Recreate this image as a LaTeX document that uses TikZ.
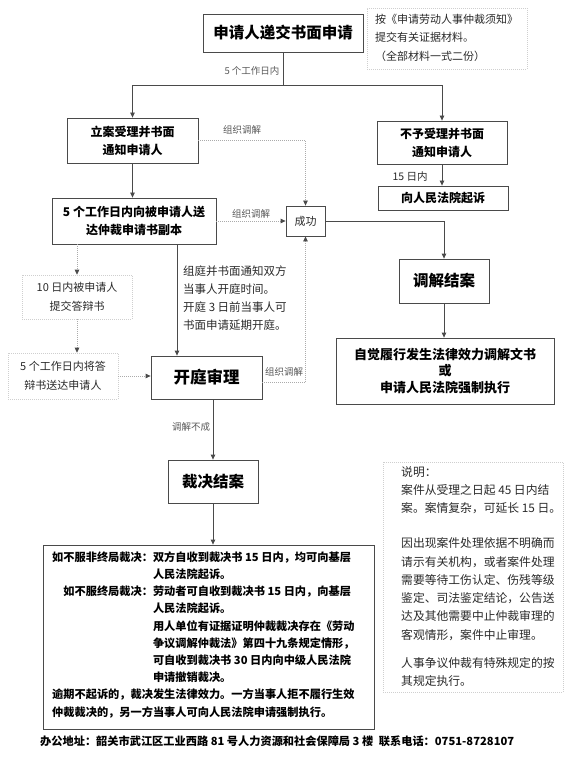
\documentclass[tikz,border=0pt]{standalone}
\usepackage{fontspec}
\setmainfont{Noto Sans CJK SC}
\usetikzlibrary{arrows.meta}
\definecolor{boxc}{HTML}{4A4A4A}
\definecolor{linec}{HTML}{4A4A4A}
\definecolor{dotc}{HTML}{ABABAB}
\definecolor{dboxc}{HTML}{CFCFCF}
\definecolor{notec}{HTML}{2A2A2A}
\definecolor{labc}{HTML}{5A5A5A}
\tikzset{
 box/.style={draw=boxc, line width=0.8pt, fill=white, inner sep=0pt, align=center, text=black, font=\bfseries\fontsize{12pt}{18pt}\selectfont},
 bigbox/.style={box, font=\bfseries\fontsize{15.5pt}{18pt}\selectfont},
 dbox/.style={draw=dboxc, line width=0.6pt, dash pattern=on 1pt off 1pt, inner sep=0pt, align=center, text=notec, font=\fontsize{11pt}{19pt}\selectfont},
 conn/.style={draw=linec, line width=0.8pt},
 arr/.style={draw=linec, line width=0.8pt, -{Triangle[length=5pt,width=4.5pt]}},
 darr/.style={draw=dotc, line width=0.8pt, dash pattern=on 1pt off 1pt, -{Triangle[length=5pt,width=4.5pt,color=linec]}},
 lab/.style={inner sep=0pt, text=labc, font=\fontsize{9.5pt}{11pt}\selectfont},
 notetext/.style={inner sep=0pt, align=left, text=notec, anchor=north west},
}
\begin{document}
\begin{tikzpicture}[x=1pt,y=-1pt]
\useasboundingbox (0,0) rectangle (567,759);
\fill[white] (0,0) rectangle (567,759);

% top
\node[bigbox, minimum width=160pt, minimum height=38pt] (b1) at (283,33) {申请人递交书面申请};
\node[dbox, minimum width=160pt, minimum height=61pt] (nb) at (447,38.5) {};
\node[notetext, anchor=west, font=\fontsize{11pt}{18.5pt}\selectfont] (nt) at (375,37.5) {按《申请劳动人事仲裁须知》\\提交有关证据材料。\\（全部材料一式二份）};

% boxes
\node[box, minimum width=131pt, minimum height=45pt] (acc) at (132.5,140.5) {立案受理并书面\\通知申请人};
\node[box, minimum width=164pt, minimum height=46pt] (send) at (134,221) {5 个工作日内向被申请人送\\达仲裁申请书副本};
\node[box, minimum width=130pt, minimum height=43pt] (rej) at (442,142.5) {不予受理并书面\\通知申请人};
\node[box, minimum width=130pt, minimum height=24pt] (sue) at (443,198) {向人民法院起诉};
\node[box, minimum width=39pt, minimum height=30pt, font=\fontsize{11pt}{13pt}\selectfont, text=notec] (succ) at (305.5,221) {成功};
\node[bigbox, minimum width=90pt, minimum height=44pt] (med) at (444,281) {调解结案};
\node[box, minimum width=218pt, minimum height=66pt, font=\bfseries\fontsize{13pt}{16.5pt}\selectfont] (exec) at (445,371) {自觉履行发生法律效力调解文书\\或\\申请人民法院强制执行};
\node[dbox, minimum width=110pt, minimum height=44pt] (reply) at (77,297) {10 日内被申请人\\提交答辩书};
\node[dbox, minimum width=110pt, minimum height=46pt] (fwd) at (63,376) {5 个工作日内将答\\辩书送达申请人};
\node[bigbox, minimum width=111pt, minimum height=43pt, font=\bfseries\fontsize{16.5pt}{18pt}\selectfont] (hear) at (206.5,377.5) {开庭审理};
\node[notetext, font=\fontsize{11.5pt}{18pt}\selectfont] (court) at (183,266) {组庭并书面通知双方\\当事人开庭时间。\\开庭 3 日前当事人可\\书面申请延期开庭。};
\node[bigbox, minimum width=90pt, minimum height=43pt] (award) at (213,481.5) {裁决结案};

% big box
\node[box, minimum width=331pt, minimum height=184pt] (big) at (208.5,637) {};
\node[inner sep=0pt, anchor=north west, font=\bfseries\fontsize{11.2pt}{17.2pt}\selectfont] (bigt) at (52,549) {%
\begin{tabular}{@{}r@{}l@{}}
如不服非终局裁决：& 双方自收到裁决书 15 日内，均可向基层\\
& 人民法院起诉。\\
如不服终局裁决：& 劳动者可自收到裁决书 15 日内，向基层\\
& 人民法院起诉。\\
& 用人单位有证据证明仲裁裁决存在《劳动\\
& 争议调解仲裁法》第四十九条规定情形，\\
& 可自收到裁决书 30 日内向中级人民法院\\
& 申请撤销裁决。\\
\multicolumn{2}{@{}l@{}}{逾期不起诉的，裁决发生法律效力。一方当事人拒不履行生效}\\
\multicolumn{2}{@{}l@{}}{仲裁裁决的，另一方当事人可向人民法院申请强制执行。}
\end{tabular}};

% explanation
\node[dbox, minimum width=180pt, minimum height=230pt] (expl) at (473,577) {};
\node[notetext, font=\fontsize{11.8pt}{18.3pt}\selectfont] (explt) at (401,466) {说明：\\案件从受理之日起 45 日内结\\案。案情复杂，可延长 15 日。\\[16.7pt]因出现案件处理依据不明确而\\请示有关机构，或者案件处理\\需要等待工伤认定、伤残等级\\鉴定、司法鉴定结论，公告送\\达及其他需要中止仲裁审理的\\客观情形，案件中止审理。\\[9.7pt]人事争议仲裁有特殊规定的按\\其规定执行。};

% footer
\node[inner sep=0pt, anchor=west, font=\bfseries\fontsize{11.2pt}{13pt}\selectfont] (foot) at (40,741) {办公地址：韶关市武江区工业西路 81 号人力资源和社会保障局 3 楼\enspace 联系电话：0751-8728107};

% connectors
\coordinate (split) at (b1.south |- 0,85);
\draw[conn] (b1.south) -- (split);
\draw[arr] (split) -| (acc.north);
\draw[arr] (split) -| (rej.north);
\node[lab] (l5) at (252,71) {5 个工作日内};
\draw[arr] (acc.south) -- (acc.south |- send.north);
\draw[arr] (rej.south) -- (rej.south |- sue.north);
\node[lab, font=\fontsize{10.5pt}{12pt}\selectfont, text=notec] (l15) at (410,177) {15 日内};
\draw[darr] (acc.east) -| (succ.north);
\node[lab] (lm1) at (242,130) {组织调解};
\draw[darr] (send.east) -- (succ.west);
\node[lab] (lm2) at (251,214) {组织调解};
\draw[arr] (succ.east) -| (med.north);
\draw[arr] (med.south) -- (med.south |- exec.north);
\draw[darr] (send.south -| reply.north) -- (reply.north);
\draw[darr] (reply.south) -- (reply.south |- fwd.north);
\draw[darr] (fwd.east) -- (fwd.east -| hear.west);
\draw[arr] ([xshift=43pt]send.south) -- ([xshift=43pt]send.south |- hear.north);
\draw[darr] ([yshift=-5pt]hear.east) -| (succ.south);
\node[lab] (lm3) at (284,372) {组织调解};
\draw[arr] (award.north |- hear.south) -- (award.north);
\node[lab] (lfail) at (191,427) {调解不成};
\draw[arr] (award.south) -- (award.south |- big.north);
\end{tikzpicture}
\end{document}
